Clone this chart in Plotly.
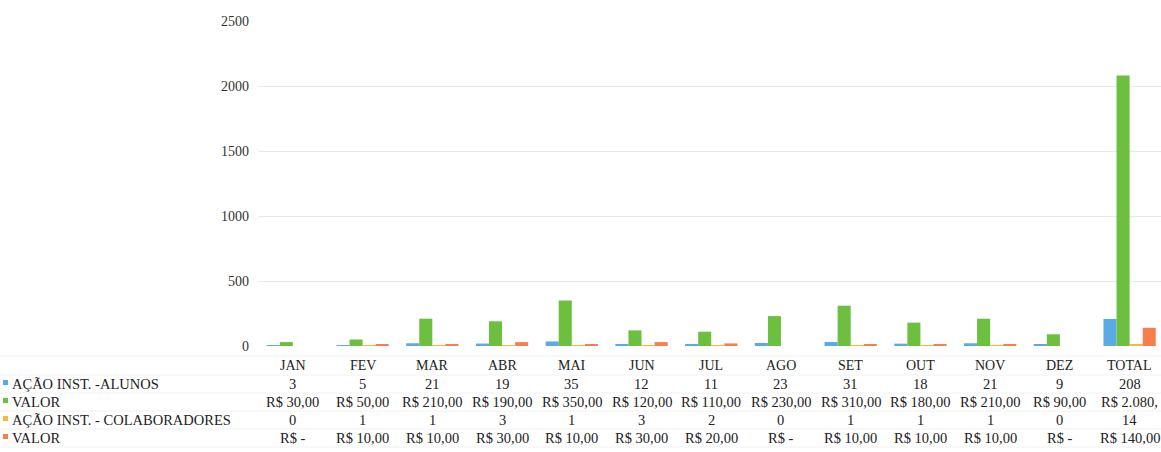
import plotly.graph_objects as go

months = ["JAN", "FEV", "MAR", "ABR", "MAI", "JUN", "JUL", "AGO", "SET", "OUT", "NOV", "DEZ", "TOTAL"]
alunos = [3, 5, 21, 19, 35, 12, 11, 23, 31, 18, 21, 9, 208]
valor_alunos = [30, 50, 210, 190, 350, 120, 110, 230, 310, 180, 210, 90, 2080]
colab = [0, 1, 1, 3, 1, 3, 2, 0, 1, 1, 1, 0, 14]
valor_colab = [0, 10, 10, 30, 10, 30, 20, 0, 10, 10, 10, 0, 140]

series_names = ["AÇÃO INST. -ALUNOS", "VALOR", "AÇÃO INST. - COLABORADORES", "VALOR"]
colors = ["#5aaae6", "#6cbf3f", "#f5b93c", "#f5804d"]


def brl(v):
    if v == 0:
        return "R$ -"
    s = f"{v:,.2f}"
    s = s.replace(",", "X").replace(".", ",").replace("X", ".")
    return "R$ " + s


fig = go.Figure()
for name, vals, col in zip(series_names, [alunos, valor_alunos, colab, valor_colab], colors):
    fig.add_trace(go.Bar(x=months, y=vals, name=name, marker_color=col,
                         marker_line_width=0, showlegend=False))

W, H = 1161, 452
L = 258
top, bottom = 21, 346
plot_w = W - L
plot_h = bottom - top
font_family = "Liberation Serif, Times New Roman, serif"
txt_color = "#222222"

fig.update_layout(
    width=W, height=H,
    margin=dict(l=L, r=0, t=top, b=H - bottom),
    paper_bgcolor="white", plot_bgcolor="white",
    barmode="group", bargap=0.25, bargroupgap=0,
    font=dict(family=font_family, size=14, color=txt_color),
)
fig.update_xaxes(type="category", range=[-0.5, 12.45], showticklabels=False,
                 showgrid=False, zeroline=False, showline=False)
fig.update_yaxes(range=[0, 2500], dtick=500, showgrid=True, gridcolor="#e8e8e8",
                 gridwidth=1, zeroline=False, showline=False, ticks="",
                 ticklabelstandoff=8, tickfont=dict(family=font_family, size=14, color="#333333"))

row_py = [365, 384, 402, 420, 438]
valor_alunos_txt = [brl(v) for v in valor_alunos]
# the total cell is narrower than its text in the table: shown truncated
valor_alunos_txt[-1] = valor_alunos_txt[-1][:9]
rows_text = [
    months,
    [str(v) for v in alunos],
    valor_alunos_txt,
    [str(v) for v in colab],
    [brl(v) for v in valor_colab],
]


def px_to_paper_x(px):
    return (px - L) / plot_w


def py_to_paper_y(py):
    return (bottom - py) / plot_h


annotations = []
shapes = []
for r, (py, texts) in enumerate(zip(row_py, rows_text)):
    for i, t in enumerate(texts):
        annotations.append(dict(x=months[i], xref="x", y=py_to_paper_y(py), yref="paper",
                                yanchor="middle", xanchor="center",
                                text=t, showarrow=False,
                                font=dict(family=font_family, size=14 if r == 0 else 14.5,
                                          color=txt_color)))
    if r > 0:
        col = colors[r - 1]
        annotations.append(dict(x=px_to_paper_x(10), xref="paper", y=py_to_paper_y(py), yref="paper",
                                yanchor="middle", xanchor="left",
                                text=series_names[r - 1], showarrow=False,
                                font=dict(family=font_family, size=14.5, color=txt_color)))
        shapes.append(dict(type="rect", xref="paper", yref="paper",
                           x0=px_to_paper_x(3), x1=px_to_paper_x(8),
                           y0=py_to_paper_y(py + 1), y1=py_to_paper_y(py - 4),
                           fillcolor=col, line=dict(width=0)))

fig.update_layout(annotations=annotations)

# faint table grid lines
for py in [356, 375, 393, 411, 429, 447]:
    shapes.append(dict(type="line", xref="paper", yref="paper",
                       x0=px_to_paper_x(0), x1=1,
                       y0=py_to_paper_y(py), y1=py_to_paper_y(py),
                       line=dict(color="#f2f2f2", width=1), layer="below"))
fig.update_layout(shapes=shapes)

fig.write_html("out.html", config={"displayModeBar": False},
               post_script="document.body.style.margin='0';document.body.style.overflow='hidden';")
